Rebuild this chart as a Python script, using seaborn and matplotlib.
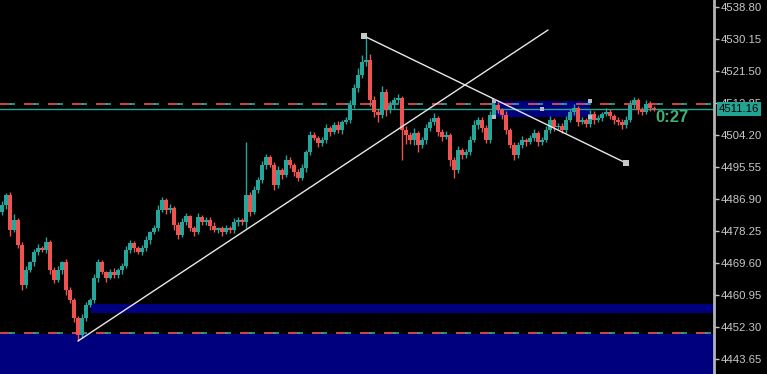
import matplotlib
matplotlib.use("Agg")
import matplotlib.pyplot as plt
import matplotlib.transforms as mtransforms
import numpy as np
import pandas as pd
import seaborn as sns

# ---------------- data ----------------
first_open = 4483.50
closes = [
    4485.28, 4487.98, 4478.52, 4481.22, 4474.47, 4463.65, 4467.71, 4469.87, 4472.57, 4473.66,
    4473.11, 4475.28, 4467.71, 4465.01, 4467.71, 4469.87, 4462.30, 4459.60, 4454.73, 4450.14,
    4454.73, 4458.25, 4459.60, 4465.55, 4469.87, 4467.17, 4465.55, 4467.17, 4466.36, 4467.71,
    4468.79, 4473.11, 4475.01, 4473.66, 4472.57, 4473.66, 4475.82, 4477.98, 4479.06, 4483.93,
    4486.63, 4483.93, 4484.47, 4479.87, 4477.17, 4480.68, 4482.31, 4479.06, 4477.98, 4482.03,
    4480.68, 4481.22, 4479.60, 4478.52, 4479.06, 4477.98, 4479.06, 4478.52, 4480.68, 4481.22,
    4480.68, 4487.98, 4483.39, 4489.33, 4492.04, 4496.09, 4498.25, 4496.09, 4490.68, 4494.74,
    4493.39, 4497.44, 4496.09, 4494.20, 4492.58, 4495.28, 4499.60, 4504.20, 4503.39, 4502.04,
    4502.85, 4506.09, 4505.01, 4506.90, 4505.55, 4507.71, 4508.25, 4512.31, 4516.90, 4520.42,
    4523.93, 4524.47, 4513.66, 4510.42, 4509.61, 4515.82, 4510.96, 4512.31, 4513.66, 4514.20,
    4505.55, 4504.20, 4502.85, 4504.74, 4501.50, 4502.85, 4506.09, 4507.71, 4508.79, 4505.01,
    4503.66, 4504.20, 4497.44, 4494.74, 4500.14, 4498.79, 4499.60, 4502.85, 4506.90, 4508.25,
    4506.09, 4502.85, 4509.61, 4512.31, 4510.96, 4509.61, 4505.55, 4501.50, 4498.79, 4501.50,
    4502.85, 4502.31, 4503.39, 4504.74, 4502.31, 4502.85, 4505.55, 4508.25, 4506.36, 4506.63,
    4505.55, 4508.25, 4510.42, 4511.50, 4507.71, 4508.25, 4507.17, 4509.88, 4508.25, 4508.79,
    4509.88, 4510.42, 4509.34, 4508.25, 4507.71, 4506.90, 4508.25, 4512.31, 4513.66, 4510.96,
    4510.42, 4512.58, 4511.50, 4511.16,
]
wick_hi = [
    1.2, 0.5, 0.8, 1.5, 0.6, 0.9, 1.1, 0.4, 0.7, 1.0,
    0.5, 1.3, 0.6, 0.8, 1.0, 0.4, 0.9, 0.7, 0.5, 0.6,
    1.1, 0.8, 0.5, 1.2, 0.9, 0.6, 0.4, 0.8, 1.0, 0.5,
    0.7, 1.2, 0.9, 0.5, 0.6, 0.8, 1.1, 0.4, 0.9, 1.3,
    0.8, 0.6, 1.0, 0.5, 0.7, 1.2, 0.9, 0.4, 0.6, 1.1,
    0.5, 0.8, 0.7, 1.0, 0.4, 0.6, 0.9, 0.5, 1.1, 0.7,
    0.6, 14.3, 0.8, 1.0, 0.7, 1.2, 0.9, 0.5, 0.8, 1.1,
    0.6, 1.3, 0.7, 0.5, 0.9, 1.0, 0.6, 1.2, 0.8, 0.5,
    0.9, 1.1, 0.6, 0.8, 1.0, 0.5, 0.7, 1.4, 1.2, 1.8,
    2.0, 6.5, 1.5, 1.0, 0.8, 1.6, 0.7, 1.2, 0.9, 1.1,
    0.6, 1.0, 0.8, 1.3, 0.5, 0.9, 1.2, 1.0, 1.4, 0.6,
    0.8, 1.0, 0.5, 0.7, 1.2, 0.6, 0.9, 1.1, 1.3, 0.8,
    0.7, 0.9, 1.2, 1.4, 0.8, 0.6, 1.0, 0.5, 0.7, 0.9,
    1.1, 0.6, 0.8, 1.0, 0.5, 0.9, 1.2, 1.0, 0.6, 0.8,
    0.7, 1.1, 0.9, 1.0, 0.6, 0.8, 0.5, 1.2, 0.7, 0.9,
    0.6, 1.0, 0.8, 0.5, 0.7, 0.9, 1.1, 1.3, 0.8, 0.6,
    0.9, 1.0, 0.7, 0.5,
]
wick_lo = [
    0.8, 1.0, 1.5, 0.6, 0.9, 1.4, 0.7, 0.5, 1.0, 0.8,
    0.6, 0.9, 1.2, 0.7, 0.5, 1.0, 1.3, 0.8, 1.1, 1.6,
    0.7, 0.9, 0.5, 0.8, 1.0, 0.6, 1.2, 0.4, 0.7, 0.9,
    1.0, 0.5, 0.8, 1.1, 0.6, 0.9, 0.7, 1.2, 0.5, 0.8,
    0.6, 1.0, 0.9, 1.3, 1.1, 0.5, 0.8, 0.7, 1.0, 0.6,
    0.9, 0.7, 1.1, 0.5, 0.8, 1.0, 0.6, 0.9, 0.7, 1.2,
    0.8, 1.5, 1.2, 0.6, 0.9, 0.7, 1.0, 0.5, 1.3, 0.8,
    1.0, 0.6, 0.9, 1.1, 0.7, 0.5, 1.2, 0.8, 0.6, 1.0,
    0.7, 0.9, 1.1, 0.5, 0.8, 1.0, 0.6, 0.9, 0.7, 1.2,
    0.8, 1.0, 1.6, 1.3, 2.0, 0.9, 1.5, 0.7, 1.0, 0.8,
    8.1, 2.5, 1.0, 1.4, 1.8, 0.9, 1.1, 0.7, 0.8, 1.2,
    1.0, 0.6, 1.5, 2.2, 0.9, 1.1, 0.7, 0.8, 0.6, 1.0,
    1.2, 0.9, 0.7, 0.5, 0.8, 1.0, 1.1, 0.9, 1.35, 0.7,
    0.8, 1.0, 0.6, 0.9, 1.1, 0.7, 0.5, 0.8, 1.0, 0.6,
    0.9, 0.7, 0.5, 0.8, 1.1, 0.6, 0.9, 0.7, 1.0, 0.5,
    0.8, 0.6, 0.9, 1.0, 0.7, 1.2, 0.8, 0.6, 0.9, 1.0,
    0.7, 0.5, 0.8, 0.6,
]

tick_vals = [4538.80, 4530.15, 4521.50, 4512.85, 4504.20, 4495.55,
             4486.90, 4478.25, 4469.60, 4460.95, 4452.30, 4443.65]
tick_labels = ["4538.80", "4530.15", "4521.50", "4512.85", "4504.20", "4495.55",
               "4486.90", "4478.25", "4469.60", "4460.95", "4452.30", "4443.65"]

current_price = 4511.16
level_upper = 4512.58
level_lower = 4450.68
timer_text = "0:27"

# zones (x start index, x end index, price low, price high)
zone_bottom = (-0.5, 178.0, 4430.0, 4450.41)
zone_mid = (22.25, 178.0, 4456.08, 4458.52)
zone_top = (123.0, 147.0, 4509.07, 4513.39)

trend1_x = [19.0, 136.5]
trend1_y = [4448.52, 4532.58]
trend2_x = [90.5, 156.0]
trend2_y = [4530.96, 4496.63]

# ---------------- build ----------------
opens = [first_open] + closes[:-1]
df = pd.DataFrame({"o": opens, "c": closes, "wh": wick_hi, "wl": wick_lo})
df["i"] = np.arange(len(df))
df["top"] = df[["o", "c"]].max(axis=1)
df["bot"] = df[["o", "c"]].min(axis=1)
df["hi"] = df["top"] + df["wh"]
df["lo"] = df["bot"] - df["wl"]
df["up"] = df["c"] >= df["o"]

BULL = "#26a69a"
BEAR = "#ef5350"
NAVY = "#00007f"

sns.set_style("dark", {"axes.facecolor": "black", "figure.facecolor": "black",
                       "grid.color": "black"})
plt.rcParams["font.family"] = ["Liberation Sans Narrow", "Liberation Sans", "DejaVu Sans"]

fig = plt.figure(figsize=(7.67, 3.74), dpi=100)
fig.patch.set_facecolor("black")
ax = fig.add_axes([0, 0, 714 / 767, 1])
ax.set_facecolor("black")
ax.set_xlim(-0.5, 178.0)
ax.set_ylim(4439.60, 4540.69)
ax.grid(False)

# zones
for (x0, x1, y0, y1) in (zone_bottom, zone_mid, zone_top):
    ax.fill_between([x0, x1], [y0, y0], [y1, y1], color=NAVY, lw=0, zorder=1)

# levels
ax.axhline(current_price, color=BULL, lw=1.0, zorder=2)
for lvl in (level_upper, level_lower):
    ax.axhline(lvl, color=BEAR, lw=1.2, ls=(0, (7.2, 7.2)), zorder=2)
    ax.axhline(lvl, color=BULL, lw=1.2, ls=(9.0, (3.6, 10.8)), zorder=2)

# candles
cols = np.where(df["up"], BULL, BEAR)
ax.vlines(df["i"], df["lo"], df["hi"], colors=cols, lw=1.0, zorder=3)
heights = np.maximum(df["top"] - df["bot"], 0.25)
ax.bar(df["i"], heights, bottom=df["bot"], width=0.78, color=cols, lw=0, zorder=4)

# trendlines
sns.lineplot(x=trend1_x, y=trend1_y, ax=ax, color="#e8e8e8", lw=1.0, zorder=5)
sns.lineplot(x=trend2_x, y=trend2_y, ax=ax, color="#e8e8e8", lw=1.0, zorder=5)
ax.scatter(trend2_x, trend2_y, marker="s", s=22, color="#c8c8c8", zorder=6, lw=0)
hx = [zone_top[0], zone_top[0], zone_top[1], zone_top[1], (zone_top[0] + zone_top[1]) / 2]
hy = [zone_top[3], zone_top[2], zone_top[3], zone_top[2], (zone_top[2] + zone_top[3]) / 2]
ax.scatter(hx, hy, marker="s", s=10, color="#b8b8c8", zorder=6, lw=0)

# axes styling
for s in ("top", "left", "bottom"):
    ax.spines[s].set_visible(False)
ax.spines["right"].set_color("#b4b4b4")
ax.spines["right"].set_linewidth(2)
ax.set_xticks([])
ax.yaxis.tick_right()
ax.set_yticks(tick_vals)
ax.set_yticklabels(tick_labels)
ax.tick_params(axis="y", colors="#c8c8c8", length=3.5, width=1, pad=1, labelsize=8.2,
               direction="out")
ax.set_xlabel("")
ax.set_ylabel("")

# current price box
trans = mtransforms.blended_transform_factory(ax.transAxes, ax.transData)
ax.text(1.0065, current_price, "4511.16", transform=trans, ha="left", va="center",
        color="#000000", fontsize=8.2, zorder=10, clip_on=False,
        bbox=dict(boxstyle="square,pad=0.18", fc="#22a393", ec="none"))

# timer
ax.text(163.3, 4508.8, timer_text, ha="left", va="center", color="#3cb371",
        fontsize=12, fontweight="bold", family=["Liberation Sans", "DejaVu Sans"], zorder=8)

fig.savefig("out.png", dpi=100, facecolor="black")
